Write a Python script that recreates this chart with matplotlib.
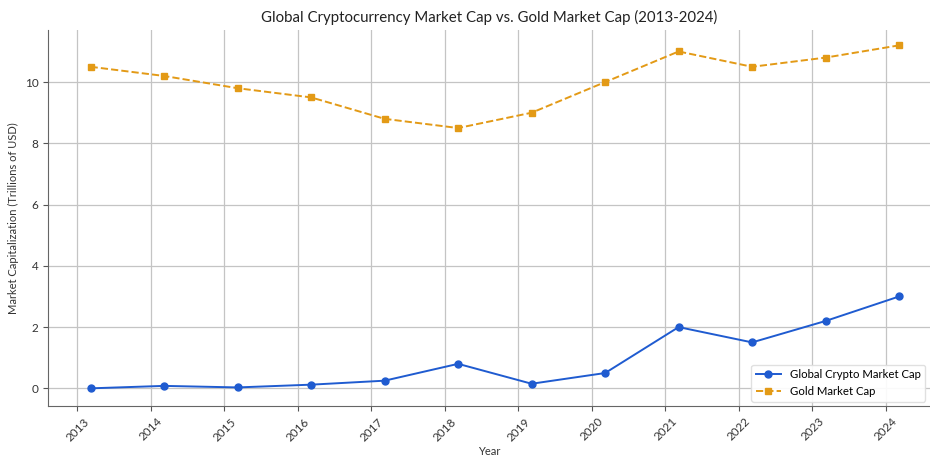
import matplotlib
matplotlib.use("Agg")
import matplotlib.pyplot as plt
import numpy as np

plt.rcParams['font.family'] = ['Lato', 'DejaVu Sans']

years = np.arange(2013, 2025)
crypto_cap = [0.0, 0.08, 0.03, 0.12, 0.25, 0.8, 0.15, 0.5, 2.0, 1.5, 2.2, 3.0]
gold_cap = [10.5, 10.2, 9.8, 9.5, 8.8, 8.5, 9.0, 10.0, 11.0, 10.5, 10.8, 11.2]
point_offset = 0.18  # points sit slightly after each year tick in the reference

fig = plt.figure(figsize=(9.3, 4.62), dpi=100)
ax = fig.add_axes([0.052, 0.121, 0.948, 0.814])

x = years + point_offset
ax.plot(x, crypto_cap, color='#1f5bd0', marker='o', markersize=5, linewidth=1.4,
        label='Global Crypto Market Cap')
ax.plot(x, gold_cap, color='#e39a16', marker='s', markersize=5, linewidth=1.4,
        linestyle='--', label='Gold Market Cap')

ax.set_xticks(years)
ax.set_xticklabels([str(y) for y in years], rotation=45, fontsize=8.5, color='#333333')
ax.set_xlim(2012.605, 2024.6)
ax.set_ylim(-0.58, 11.7)
ax.set_yticks([0, 2, 4, 6, 8, 10])
ax.tick_params(axis='y', labelsize=8.5, colors='#333333')
ax.tick_params(axis='both', color='#555555', length=3.5)

ax.grid(True, color='#c4c4c4', linewidth=0.9)
ax.set_axisbelow(True)
for side in ['top', 'right']:
    ax.spines[side].set_visible(False)
for side in ['left', 'bottom']:
    ax.spines[side].set_color('#666666')

ax.set_title('Global Cryptocurrency Market Cap vs. Gold Market Cap (2013-2024)',
             fontsize=10.8, color='#222222', pad=6)
ax.set_xlabel('Year', fontsize=8, color='#333333', labelpad=2)
ax.set_ylabel('Market Capitalization (Trillions of USD)', fontsize=8, color='#333333')

ax.legend(loc='lower right', fontsize=8.2, frameon=True, framealpha=0.9,
          edgecolor='#dddddd', borderaxespad=0.4, handlelength=2.2)

fig.savefig('out.png', dpi=100)
